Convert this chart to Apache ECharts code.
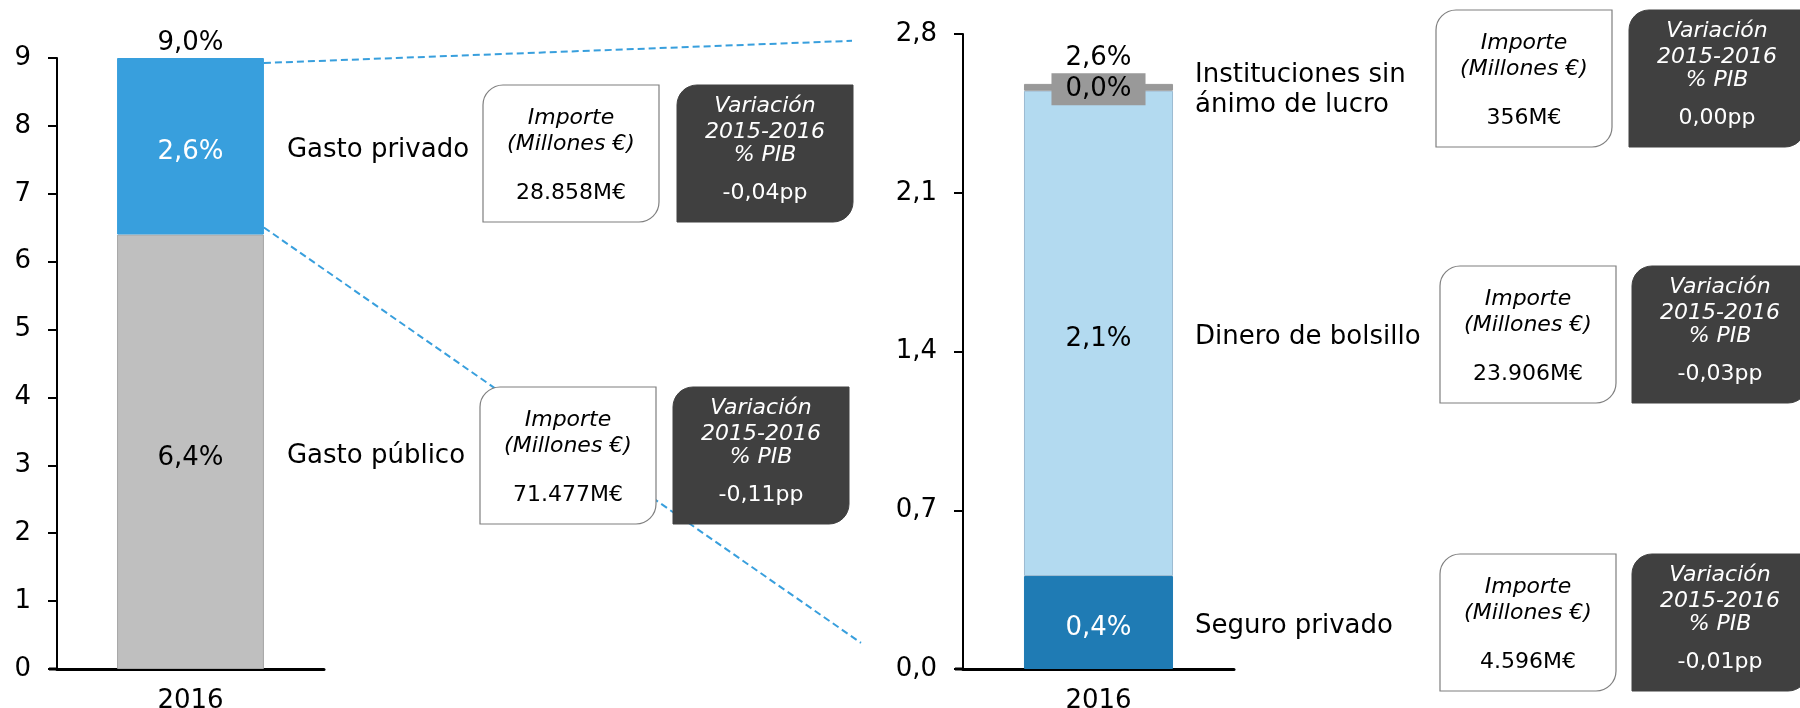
<!DOCTYPE html>
<html>
<head>
<meta charset="utf-8">
<script src="https://cdn.jsdelivr.net/npm/echarts@6/dist/echarts.min.js"></script>
<style>
    html, body {margin: 0; padding: 0; background: #fff;}
    #main {width: 1800px; height: 708px;}
</style>
</head>
<body>
<div id="main"></div>
<script>
// datos
var years = ['2016'];
var gastoNames = ['Gasto público', 'Gasto privado'];
var gastoValues = [6.4, 2.6];
var gastoImportes = ['71.477M€', '28.858M€'];
var gastoVariaciones = ['-0,11pp', '-0,04pp'];

var privNames = ['Seguro privado', 'Dinero de bolsillo', 'Instituciones sin\nánimo de lucro'];
var privValues = [0.41, 2.14, 0.03];
var privImportes = ['4.596M€', '23.906M€', '356M€'];
var privVariaciones = ['-0,01pp', '-0,03pp', '0,00pp'];

var leftTicks = [0, 9, 1];
var rightTicks = [0, 2.8, 0.7];

// estilos
var FONT = '"DejaVu Sans", Verdana, sans-serif';
var gastoColors = ['#BFBFBF', '#389FDD'];
var gastoBorders = ['#A6A6A6', '#389FDD'];
var gastoLabelColors = ['#000', '#fff'];
var privColors = ['#1F7BB4', '#B3DAF0', '#999999'];
var privBorders = ['#1F7BB4', '#9DBBD2', '#999999'];
var privLabelColors = ['#fff', '#000', '#000'];
// posiciones de las cajas [x blanca, x oscura, y]
var gastoBoxes = [[480, 673, 387], [483, 677, 85]];
var privBoxes = [[1440, 1632, 554], [1440, 1632, 266], [1436, 1629, 10]];

function fmt(v) {
    return v.toFixed(1).replace('.', ',') + '%';
}

var chart = echarts.init(document.getElementById('main'), null, {renderer: 'canvas'});

var series = [];
for (var i = 0; i < gastoValues.length; i++) {
    series.push({
        name: gastoNames[i],
        type: 'bar',
        stack: 'gasto',
        xAxisIndex: 0,
        yAxisIndex: 0,
        barWidth: '55%',
        data: [gastoValues[i]],
        itemStyle: {color: gastoColors[i], borderColor: gastoBorders[i], borderWidth: 1},
        label: {
            show: true,
            position: 'inside',
            offset: [0, 6],
            formatter: function (p) { return fmt(p.value); },
            color: gastoLabelColors[i],
            fontSize: 26,
            fontFamily: FONT
        },
        silent: true
    });
}
for (var j = 0; j < privValues.length; j++) {
    var lab = {
        show: true,
        position: 'inside',
        offset: [0, 6],
        formatter: function (p) { return fmt(p.value); },
        color: privLabelColors[j],
        fontSize: 26,
        fontFamily: FONT
    };
    if (j === 2) {
        lab.offset = [0, 2];
        lab.backgroundColor = '#999999';
        lab.padding = [3, 14, 3, 14];
    }
    series.push({
        name: privNames[j],
        type: 'bar',
        stack: 'priv',
        xAxisIndex: 1,
        yAxisIndex: 1,
        barWidth: '55%',
        data: [privValues[j]],
        itemStyle: {color: privColors[j], borderColor: privBorders[j], borderWidth: 1},
        label: lab,
        silent: true
    });
}

var axisText = {color: '#000', fontSize: 26, fontFamily: FONT};

chart.setOption({
    animation: false,
    grid: [
        {left: 57, right: 1476, top: 58, bottom: 39, outerBoundsMode: 'none', containLabel: false},
        {left: 963, right: 566, top: 34, bottom: 39, outerBoundsMode: 'none', containLabel: false}
    ],
    xAxis: [0, 1].map(function (k) {
        return {
            type: 'category',
            gridIndex: k,
            data: years,
            axisLine: {lineStyle: {color: '#000', width: 3}},
            axisTick: {show: false},
            axisLabel: Object.assign({margin: 19}, axisText)
        };
    }),
    yAxis: [
        {
            type: 'value',
            gridIndex: 0,
            min: leftTicks[0],
            max: leftTicks[1],
            interval: leftTicks[2],
            splitLine: {show: false},
            axisLine: {show: true, lineStyle: {color: '#000', width: 2}},
            axisTick: {show: true, length: 9, lineStyle: {color: '#000', width: 2}},
            axisLabel: Object.assign({margin: 26}, axisText)
        },
        {
            type: 'value',
            gridIndex: 1,
            min: rightTicks[0],
            max: rightTicks[1],
            interval: rightTicks[2],
            splitLine: {show: false},
            axisLine: {show: true, lineStyle: {color: '#000', width: 2}},
            axisTick: {show: true, length: 9, lineStyle: {color: '#000', width: 2}},
            axisLabel: Object.assign({
                margin: 26,
                formatter: function (v) { return v.toFixed(1).replace('.', ','); }
            }, axisText)
        }
    ],
    series: series
});

function txt(x, y, text, font, fill, align) {
    return {
        type: 'text', z: 11,
        style: {
            x: x, y: y, text: text, font: font, fill: fill,
            textAlign: align, textVerticalAlign: 'middle', lineHeight: 30
        }
    };
}

// cajas de importe / variacion
function boxGroup(wx, dx, top, importe, variacion) {
    var W = 176, H = 137;
    return [
        {
            type: 'rect', z: 10,
            shape: {x: wx, y: top, width: W, height: H, r: [20, 0, 20, 0]},
            style: {fill: '#fff', stroke: '#7F7F7F', lineWidth: 1.2}
        },
        txt(wx + W / 2, top + 33, 'Importe', 'italic 22px ' + FONT, '#000', 'center'),
        txt(wx + W / 2, top + 59, '(Millones €)', 'italic 22px ' + FONT, '#000', 'center'),
        txt(wx + W / 2, top + 108, importe, '22px ' + FONT, '#000', 'center'),
        {
            type: 'rect', z: 10,
            shape: {x: dx, y: top, width: W, height: H, r: [20, 0, 20, 0]},
            style: {fill: '#404040', stroke: '#404040', lineWidth: 1}
        },
        txt(dx + W / 2, top + 21, 'Variación', 'italic 22px ' + FONT, '#fff', 'center'),
        txt(dx + W / 2, top + 47, '2015-2016', 'italic 22px ' + FONT, '#fff', 'center'),
        txt(dx + W / 2, top + 70, '% PIB', 'italic 22px ' + FONT, '#fff', 'center'),
        txt(dx + W / 2, top + 108, variacion, '22px ' + FONT, '#fff', 'center')
    ];
}

function drawExtras() {
    var W = chart.getWidth();
    var leftGridW = W - 57 - 1476;
    var rightGridW = W - 963 - 566;
    var lc = chart.convertToPixel({xAxisIndex: 0}, years[0]);
    var rc = chart.convertToPixel({xAxisIndex: 1}, years[0]);
    var lRight = lc + leftGridW * 0.55 / 2;
    var rRight = rc + rightGridW * 0.55 / 2;
    var rAxisX = 963;

    var els = [];
    // lineas discontinuas
    var gTotal = gastoValues[0] + gastoValues[1];
    var pTotal = privValues.reduce(function (a, b) { return a + b; }, 0);
    var dash = {stroke: '#389FDD', lineWidth: 2, lineDash: [7, 4]};
    els.push({
        type: 'line', z: 5,
        shape: {
            x1: lRight, y1: chart.convertToPixel({yAxisIndex: 0}, gTotal) + 5,
            x2: rAxisX - 111, y2: chart.convertToPixel({yAxisIndex: 1}, 2.77)
        },
        style: dash
    });
    els.push({
        type: 'line', z: 5,
        shape: {
            x1: lRight, y1: chart.convertToPixel({yAxisIndex: 0}, gastoValues[0]) - 7,
            x2: rAxisX - 102, y2: chart.convertToPixel({yAxisIndex: 1}, 0.115)
        },
        style: dash
    });
    // prolongacion del eje x a la izquierda
    var zeroY = chart.convertToPixel({yAxisIndex: 0}, 0);
    [57, 963].forEach(function (ax) {
        els.push({
            type: 'line', z: 6,
            shape: {x1: ax - 8, y1: zeroY, x2: ax, y2: zeroY},
            style: {stroke: '#000', lineWidth: 3}
        });
    });

    // totales
    els.push(txt(lc, chart.convertToPixel({yAxisIndex: 0}, gTotal) - 15, fmt(gTotal), '26px ' + FONT, '#000', 'center'));
    els.push(txt(rc, chart.convertToPixel({yAxisIndex: 1}, pTotal) - 26, fmt(pTotal), '26px ' + FONT, '#000', 'center'));

    // nombres y cajas
    var acc = 0;
    for (var i = 0; i < gastoValues.length; i++) {
        var mid = chart.convertToPixel({yAxisIndex: 0}, acc + gastoValues[i] / 2);
        acc += gastoValues[i];
        els.push(txt(lRight + 23, mid + 4, gastoNames[i], '26px ' + FONT, '#000', 'left'));
        els = els.concat(boxGroup(gastoBoxes[i][0], gastoBoxes[i][1], gastoBoxes[i][2], gastoImportes[i], gastoVariaciones[i]));
    }
    acc = 0;
    for (var j = 0; j < privValues.length; j++) {
        var m = chart.convertToPixel({yAxisIndex: 1}, acc + privValues[j] / 2);
        acc += privValues[j];
        m = m + (j === 2 ? 3 : 4);
        els.push(txt(rRight + 22, m, privNames[j], '26px ' + FONT, '#000', 'left'));
        els = els.concat(boxGroup(privBoxes[j][0], privBoxes[j][1], privBoxes[j][2], privImportes[j], privVariaciones[j]));
    }
    chart.setOption({graphic: {elements: els}});
}

drawExtras();
</script>
</body>
</html>
